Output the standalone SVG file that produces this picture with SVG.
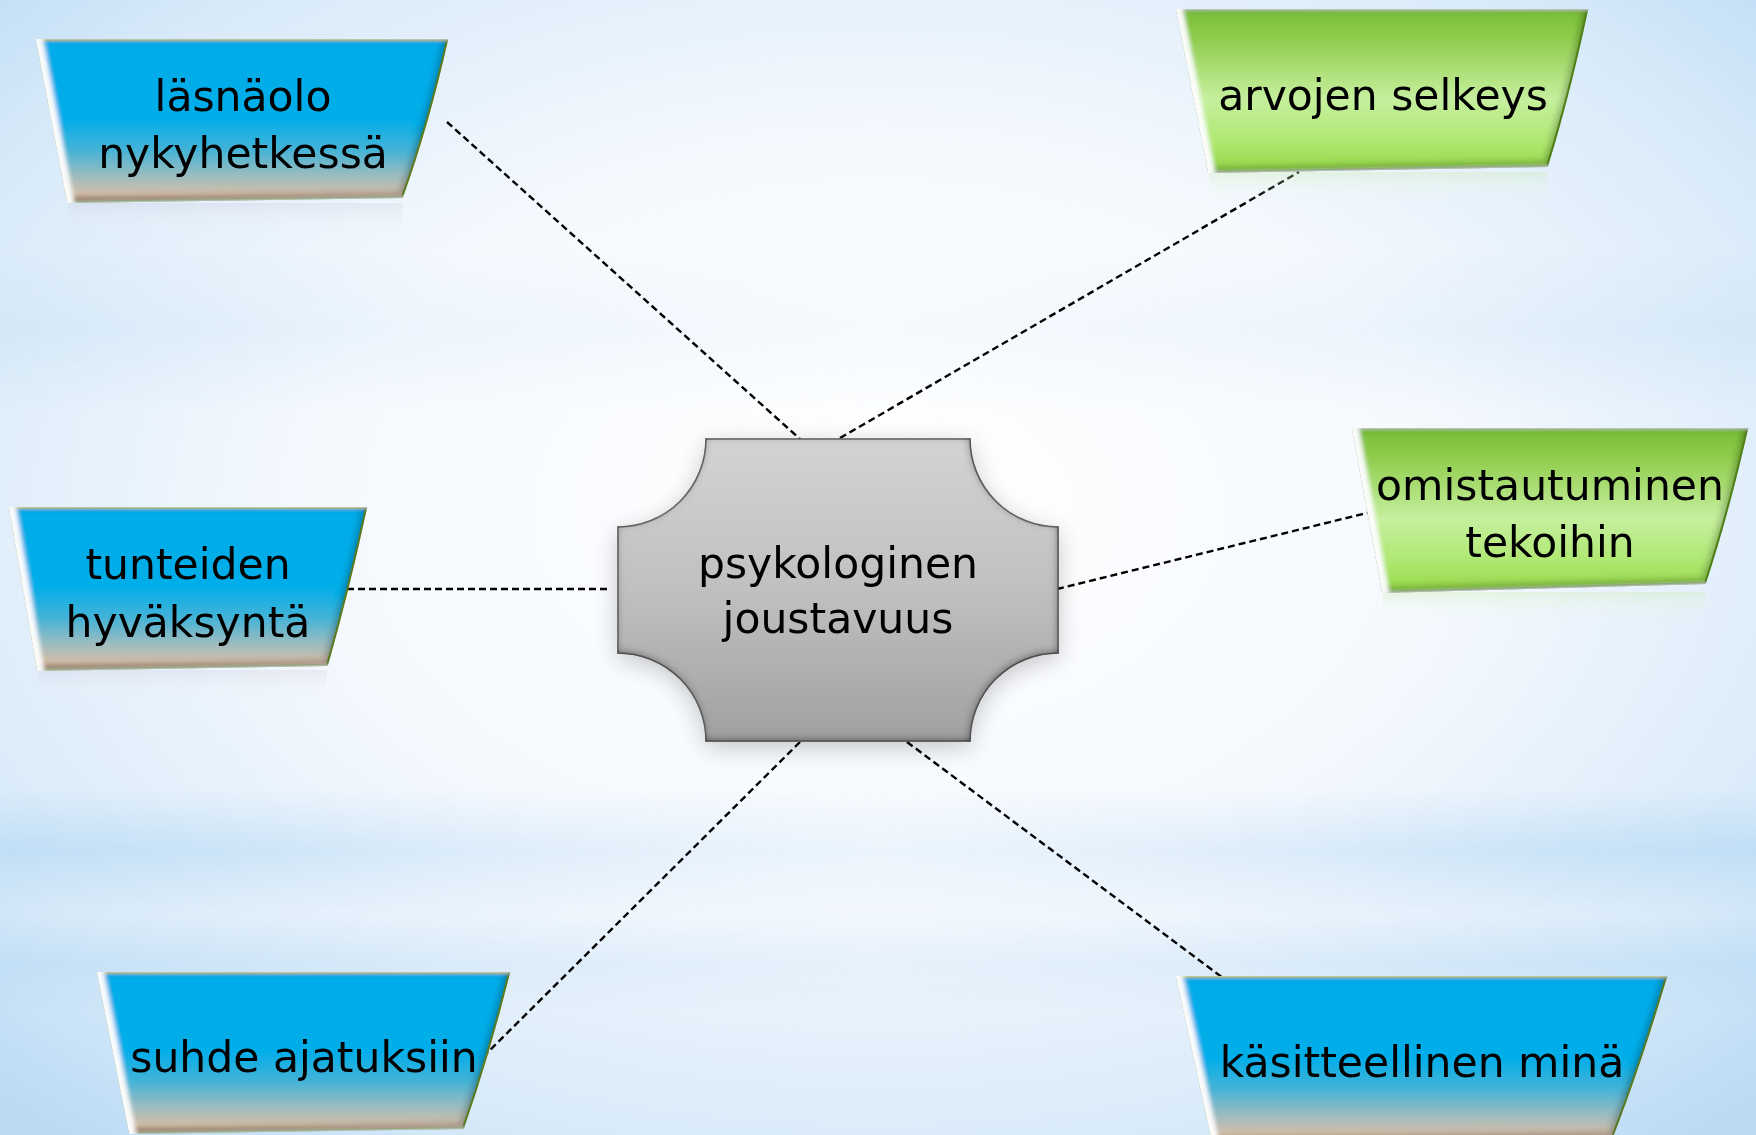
<svg xmlns="http://www.w3.org/2000/svg" width="1756" height="1135" viewBox="0 0 1756 1135">
<style>
.t{font-family:"DejaVu Sans","Liberation Sans",sans-serif;font-size:42.5px;fill:#000;text-anchor:middle}
.blue{fill:url(#gBlue);stroke:#78a034;stroke-width:2;filter:url(#bevel)}
.green{fill:url(#gGreen);stroke:#6aa82a;stroke-width:2;filter:url(#bevel)}
.link{fill:none;stroke:#000;stroke-width:2.4;stroke-dasharray:7 4}
.refl{opacity:0.35}
</style>
<defs>
<radialGradient id="bgR" cx="0.5" cy="0.45" r="0.72">
<stop offset="0" stop-color="#ffffff"/>
<stop offset="0.45" stop-color="#f5f9fe"/>
<stop offset="0.8" stop-color="#d8eaf9"/>
<stop offset="1" stop-color="#bbdbf5"/>
</radialGradient>
<linearGradient id="bandV" x1="0" y1="0" x2="0" y2="1">
<stop offset="0" stop-color="#bcdcf5" stop-opacity="0"/>
<stop offset="0.5" stop-color="#bcdcf5" stop-opacity="0.85"/>
<stop offset="1" stop-color="#bcdcf5" stop-opacity="0"/>
</linearGradient>
<linearGradient id="bandH" x1="0" y1="0" x2="1" y2="0">
<stop offset="0" stop-color="#fff"/>
<stop offset="0.25" stop-color="#777"/>
<stop offset="0.5" stop-color="#333"/>
<stop offset="0.75" stop-color="#777"/>
<stop offset="1" stop-color="#fff"/>
</linearGradient>
<mask id="bandMask"><rect width="1756" height="1135" fill="url(#bandH)"/></mask>
<linearGradient id="gBlue" x1="0" y1="0" x2="0" y2="1">
<stop offset="0" stop-color="#04ace9"/>
<stop offset="0.5" stop-color="#06aee9"/>
<stop offset="0.68" stop-color="#45b3d6"/>
<stop offset="0.84" stop-color="#9dbcbf"/>
<stop offset="0.95" stop-color="#d3bea8"/>
<stop offset="1" stop-color="#b89c80"/>
</linearGradient>
<linearGradient id="gGreen" x1="0" y1="0" x2="0" y2="1">
<stop offset="0" stop-color="#78bd38"/>
<stop offset="0.15" stop-color="#8ccb48"/>
<stop offset="0.55" stop-color="#c6ef9e"/>
<stop offset="0.8" stop-color="#b0e874"/>
<stop offset="1" stop-color="#96d946"/>
</linearGradient>
<linearGradient id="gGray" x1="0" y1="0" x2="0" y2="1">
<stop offset="0" stop-color="#d3d3d3"/>
<stop offset="0.5" stop-color="#c0c0c0"/>
<stop offset="1" stop-color="#a0a0a0"/>
</linearGradient>
<linearGradient id="gReflB" x1="0" y1="0" x2="0" y2="1">
<stop offset="0" stop-color="#c9c6d6" stop-opacity="0.8"/>
<stop offset="1" stop-color="#ffffff" stop-opacity="0"/>
</linearGradient>
<linearGradient id="gReflG" x1="0" y1="0" x2="0" y2="1">
<stop offset="0" stop-color="#c8ecaa" stop-opacity="0.9"/>
<stop offset="1" stop-color="#ffffff" stop-opacity="0"/>
</linearGradient>
<filter id="bevel" x="-5%" y="-8%" width="110%" height="116%">
<feFlood flood-color="#ffffff" flood-opacity="0.95" result="w"/>
<feComposite in="w" in2="SourceAlpha" operator="out" result="wout"/>
<feGaussianBlur in="wout" stdDeviation="2" result="wb"/>
<feOffset in="wb" dx="7" dy="0" result="wo"/>
<feComposite in="wo" in2="SourceAlpha" operator="in" result="hi"/>
<feFlood flood-color="#000000" flood-opacity="0.45" result="k"/>
<feComposite in="k" in2="SourceAlpha" operator="out" result="kout"/>
<feGaussianBlur in="kout" stdDeviation="3" result="kb"/>
<feOffset in="kb" dx="-4" dy="-6" result="ko"/>
<feComposite in="ko" in2="SourceAlpha" operator="in" result="sh"/>
<feFlood flood-color="#000000" flood-opacity="0.25" result="k2"/>
<feComposite in="k2" in2="SourceAlpha" operator="out" result="k2out"/>
<feGaussianBlur in="k2out" stdDeviation="2" result="k2b"/>
<feOffset in="k2b" dx="0" dy="3" result="k2o"/>
<feComposite in="k2o" in2="SourceAlpha" operator="in" result="top"/>
<feMerge><feMergeNode in="SourceGraphic"/><feMergeNode in="top"/><feMergeNode in="sh"/><feMergeNode in="hi"/></feMerge>
</filter>
<filter id="innerGray" x="-5%" y="-5%" width="110%" height="110%">
<feFlood flood-color="#000000" flood-opacity="0.8" result="k"/>
<feComposite in="k" in2="SourceAlpha" operator="out" result="kout"/>
<feGaussianBlur in="kout" stdDeviation="4.5" result="kb"/>
<feOffset in="kb" dx="-1" dy="-2" result="ko"/>
<feComposite in="ko" in2="SourceAlpha" operator="in" result="sh"/>
<feMerge><feMergeNode in="SourceGraphic"/><feMergeNode in="sh"/></feMerge>
</filter>
<filter id="soft" x="-20%" y="-20%" width="140%" height="140%">
<feGaussianBlur stdDeviation="12"/>
</filter>
</defs>

<g id="background">
<rect width="1756" height="1135" fill="url(#bgR)"/>
<g mask="url(#bandMask)">
<rect x="0" y="790" width="1756" height="120" fill="url(#bandV)"/>
<rect x="0" y="920" width="1756" height="90" fill="url(#bandV)" opacity="0.7"/>
<rect x="0" y="250" width="1756" height="160" fill="url(#bandV)" opacity="0.35"/>
</g>
</g>

<g id="connectors">
<line class="link" x1="447" y1="122" x2="800" y2="439"/>
<line class="link" x1="840" y1="438" x2="1299" y2="172"/>
<line class="link" x1="347" y1="589" x2="610" y2="589"/>
<line class="link" x1="1057" y1="589" x2="1375" y2="511"/>
<line class="link" x1="800" y1="742" x2="482" y2="1058"/>
<line class="link" x1="907" y1="742" x2="1223" y2="978"/>
</g>

<g id="center">
<path d="M706 439H970A88 88 0 0 0 1058 527V653A88 88 0 0 0 970 741H706A88 88 0 0 0 618 653V527A88 88 0 0 0 706 439Z" fill="#000" opacity="0.22" filter="url(#soft)" transform="translate(0 6)"/>
<path d="M706 439H970A88 88 0 0 0 1058 527V653A88 88 0 0 0 970 741H706A88 88 0 0 0 618 653V527A88 88 0 0 0 706 439Z" fill="url(#gGray)" stroke="#6e6e6e" stroke-width="1.5" filter="url(#innerGray)"/>
<text class="t" x="838" y="578">psykologinen</text>
<text class="t" x="838" y="633">joustavuus</text>
</g>

<g id="node-lasnaolo">
<rect class="refl" x="68" y="203" width="334" height="32" fill="url(#gReflB)"/>
<path class="blue" d="M37 40H447Q428 125 402 197L68 202Z"/>
<text class="t" x="243" y="111">läsnäolo</text>
<text class="t" x="243" y="168">nykyhetkessä</text>
</g>

<g id="node-arvojen">
<rect class="refl" x="1209" y="172" width="338" height="32" fill="url(#gReflG)"/>
<path class="green" d="M1177 10H1587Q1569 95 1547 166L1209 172Z"/>
<text class="t" x="1383" y="110">arvojen selkeys</text>
</g>

<g id="node-omistautuminen">
<rect class="refl" x="1383" y="592" width="322" height="32" fill="url(#gReflG)"/>
<path class="green" d="M1353 429H1747Q1728 513 1705 583L1383 592Z"/>
<text class="t" x="1550" y="500">omistautuminen</text>
<text class="t" x="1550" y="557">tekoihin</text>
</g>

<g id="node-tunteiden">
<rect class="refl" x="38" y="670" width="289" height="32" fill="url(#gReflB)"/>
<path class="blue" d="M10 508H366Q348 592 327 665L38 670Z"/>
<text class="t" x="188" y="579">tunteiden</text>
<text class="t" x="188" y="637">hyväksyntä</text>
</g>

<g id="node-suhde">
<path class="blue" d="M98 973H509Q488 1057 463 1128L130 1133Z"/>
<text class="t" x="304" y="1072">suhde ajatuksiin</text>
</g>

<g id="node-kasitteellinen">
<path class="blue" d="M1177 977H1666Q1640 1065 1612 1137L1213 1142Z"/>
<text class="t" x="1422" y="1077">käsitteellinen minä</text>
</g>
</svg>
